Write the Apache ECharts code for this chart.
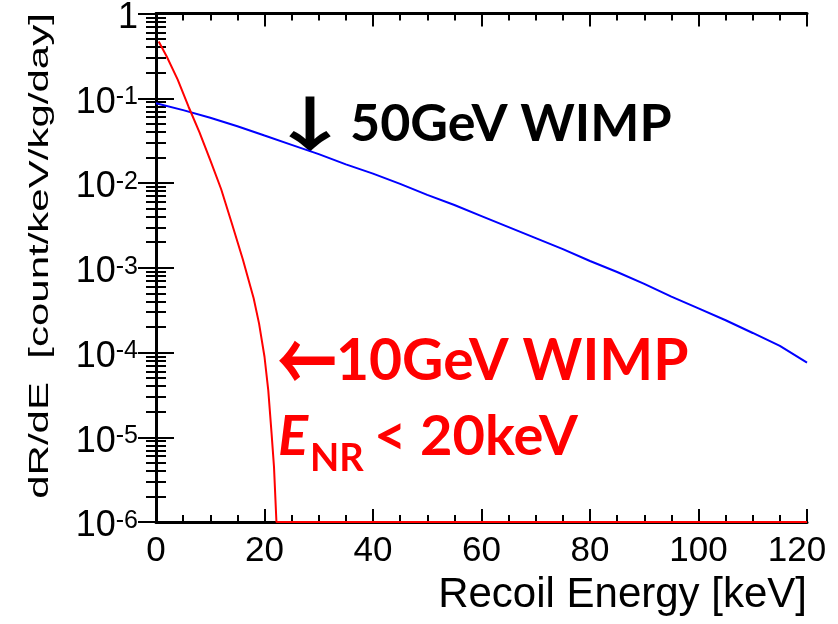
<!DOCTYPE html>
<html>
<head>
<meta charset="utf-8">
<script src="https://cdn.jsdelivr.net/npm/echarts@6/dist/echarts.min.js"></script>
<style>
  html, body { margin: 0; padding: 0; background: #fff; }
  #chart { width: 838px; height: 624px; }
</style>
</head>
<body>
<div id="chart"></div>
<script>
// recoil energy [keV] and rate [count/keV/kg/day]
const energy50 = [0, 5, 10, 15, 20, 25, 30, 35, 40, 45, 50, 55, 60, 65, 70, 75, 80, 85, 90, 95, 100, 105, 110, 115, 120];
const rate50 = [0.0871, 0.0724, 0.0589, 0.0468, 0.0363, 0.0282, 0.0219, 0.0166, 0.0129, 0.00977, 0.00724, 0.0055,
  0.00407, 0.00302, 0.00224, 0.00166, 0.0012, 0.00089, 0.000646, 0.000457, 0.000331, 0.00024, 0.00017, 0.00012, 0.0000759];

const energy10 = [0.5, 2, 4, 6, 8, 10, 12, 14, 16, 18, 19, 20, 20.7, 21.3, 21.75, 22.2, 60, 120];
const rate10 = [0.468, 0.309, 0.166, 0.0794, 0.0398, 0.0186, 0.0085, 0.0033, 0.00126, 0.000437, 0.000219, 0.0000891,
  0.0000355, 0.0000112, 0.00000447, 0.000001, 0.000001, 0.000001];

const xMin = 0, xMax = 120, xStep = 20;
const yMin = 1e-6, yMax = 1;

const pairs = (xs, ys) => xs.map((x, i) => [x, ys[i]]);

const axisFont = 'Liberation Sans, Arial, sans-serif';
const boldFont = 'Lato, Open Sans, sans-serif';
const arrowFont = 'Noto Sans CJK SC, DejaVu Sans, sans-serif';

// 10^n labels with a raised exponent
const logLabel = (v) => {
  const n = Math.round(Math.log10(v));
  if (n === 0) return '{b|1}';
  return '{b|10}{s|' + n + '}';
};

const frameLine = { show: true, lineStyle: { color: '#000', width: 3 } };
const tickStyle = { color: '#000', width: 2 };

const xAxisBase = (pos, showLabel) => ({
  type: 'value',
  position: pos,
  min: xMin,
  max: xMax,
  interval: xStep,
  axisLine: frameLine,
  axisTick: { show: true, inside: true, length: 13, lineStyle: tickStyle },
  minorTick: { show: true, splitNumber: 4, length: 7, lineStyle: tickStyle },
  splitLine: { show: false },
  axisLabel: {
    show: showLabel,
    margin: 12,
    color: '#000',
    fontFamily: axisFont,
    fontSize: 35,
    formatter: (v) => (v === xMax ? '{r|' + v + '}' : String(v)),
    rich: { r: { fontFamily: axisFont, fontSize: 35, color: '#000', padding: [0, 20, 0, 0] } }
  }
});

const yAxisBase = (pos, showLabel) => ({
  type: 'log',
  logBase: 10,
  position: pos,
  min: yMin,
  max: yMax,
  splitNumber: 6,
  axisLine: frameLine,
  axisTick: { show: true, inside: true, length: 18, lineStyle: tickStyle },
  minorTick: { show: true, splitNumber: 9, length: 10, lineStyle: tickStyle },
  splitLine: { show: false },
  axisLabel: {
    show: showLabel,
    margin: 18,
    fontFamily: axisFont,
    fontSize: 36,
    color: '#000',
    padding: [9, 0, 0, 0],
    formatter: logLabel,
    rich: {
      b: { fontFamily: axisFont, fontSize: 36, color: '#000', lineHeight: 36, verticalAlign: 'bottom' },
      s: { fontFamily: axisFont, fontSize: 25, color: '#000', lineHeight: 21, verticalAlign: 'top' }
    }
  }
});

const chart = echarts.init(document.getElementById('chart'));

const option = {
  backgroundColor: '#fff',
  animation: false,
  grid: { left: 156, right: 31, top: 13, bottom: 102, containLabel: false },
  xAxis: [
    Object.assign(xAxisBase('bottom', true), {
      name: 'Recoil Energy [keV]',
      nameLocation: 'end',
      nameGap: 0,
      nameTextStyle: {
        fontFamily: axisFont, fontSize: 42, color: '#000',
        align: 'right', verticalAlign: 'top', padding: [52, 0, 0, 0]
      }
    }),
    xAxisBase('top', false)
  ],
  yAxis: [
    yAxisBase('left', true),
    yAxisBase('right', false)
  ],
  series: [
    {
      name: '50GeV WIMP',
      type: 'line',
      data: pairs(energy50, rate50),
      showSymbol: false,
      clip: false,
      lineStyle: { color: '#0000ff', width: 2 },
      itemStyle: { color: '#0000ff' }
    },
    {
      name: '10GeV WIMP',
      type: 'line',
      data: pairs(energy10, rate10),
      showSymbol: false,
      clip: false,
      z: 5,
      lineStyle: { color: '#ff0000', width: 2 },
      itemStyle: { color: '#ff0000' }
    }
  ],
  graphic: [
    {
      type: 'text',
      x: 40, y: 256,
      rotation: Math.PI / 2,
      scaleX: 1.5,
      style: {
        text: 'dR/dE  [count/keV/kg/day]',
        font: '28px ' + axisFont,
        fill: '#000',
        textAlign: 'center',
        textVerticalAlign: 'middle'
      }
    },
    {
      type: 'text', x: 310, y: 124, scaleX: 1.45,
      style: { text: '↓', font: 'bold 60px ' + arrowFont, fill: '#000', textAlign: 'center', textVerticalAlign: 'middle' }
    },
    {
      type: 'text', x: 350, y: 124,
      style: { text: '50GeV WIMP', font: 'bold 52px ' + boldFont, fill: '#000', textAlign: 'left', textVerticalAlign: 'middle' }
    },
    {
      type: 'text', x: 307, y: 361, scaleY: 1.4,
      style: { text: '←', font: 'bold 60px ' + arrowFont, fill: '#ff0000', textAlign: 'center', textVerticalAlign: 'middle' }
    },
    {
      type: 'text', x: 336, y: 362,
      style: { text: '10GeV WIMP', font: 'bold 57px ' + boldFont, fill: '#ff0000', textAlign: 'left', textVerticalAlign: 'middle' }
    },
    {
      type: 'text', x: 278, y: 437,
      style: { text: 'E', font: 'italic bold 56px ' + boldFont, fill: '#ff0000', textAlign: 'left', textVerticalAlign: 'middle' }
    },
    {
      type: 'text', x: 310, y: 459,
      style: { text: 'NR', font: 'bold 38px ' + boldFont, fill: '#ff0000', textAlign: 'left', textVerticalAlign: 'middle' }
    },
    {
      type: 'text', x: 374, y: 437,
      style: { text: '< 20keV', font: 'bold 56px ' + boldFont, fill: '#ff0000', textAlign: 'left', textVerticalAlign: 'middle' }
    }
  ]
};

chart.setOption(option);
</script>
</body>
</html>
